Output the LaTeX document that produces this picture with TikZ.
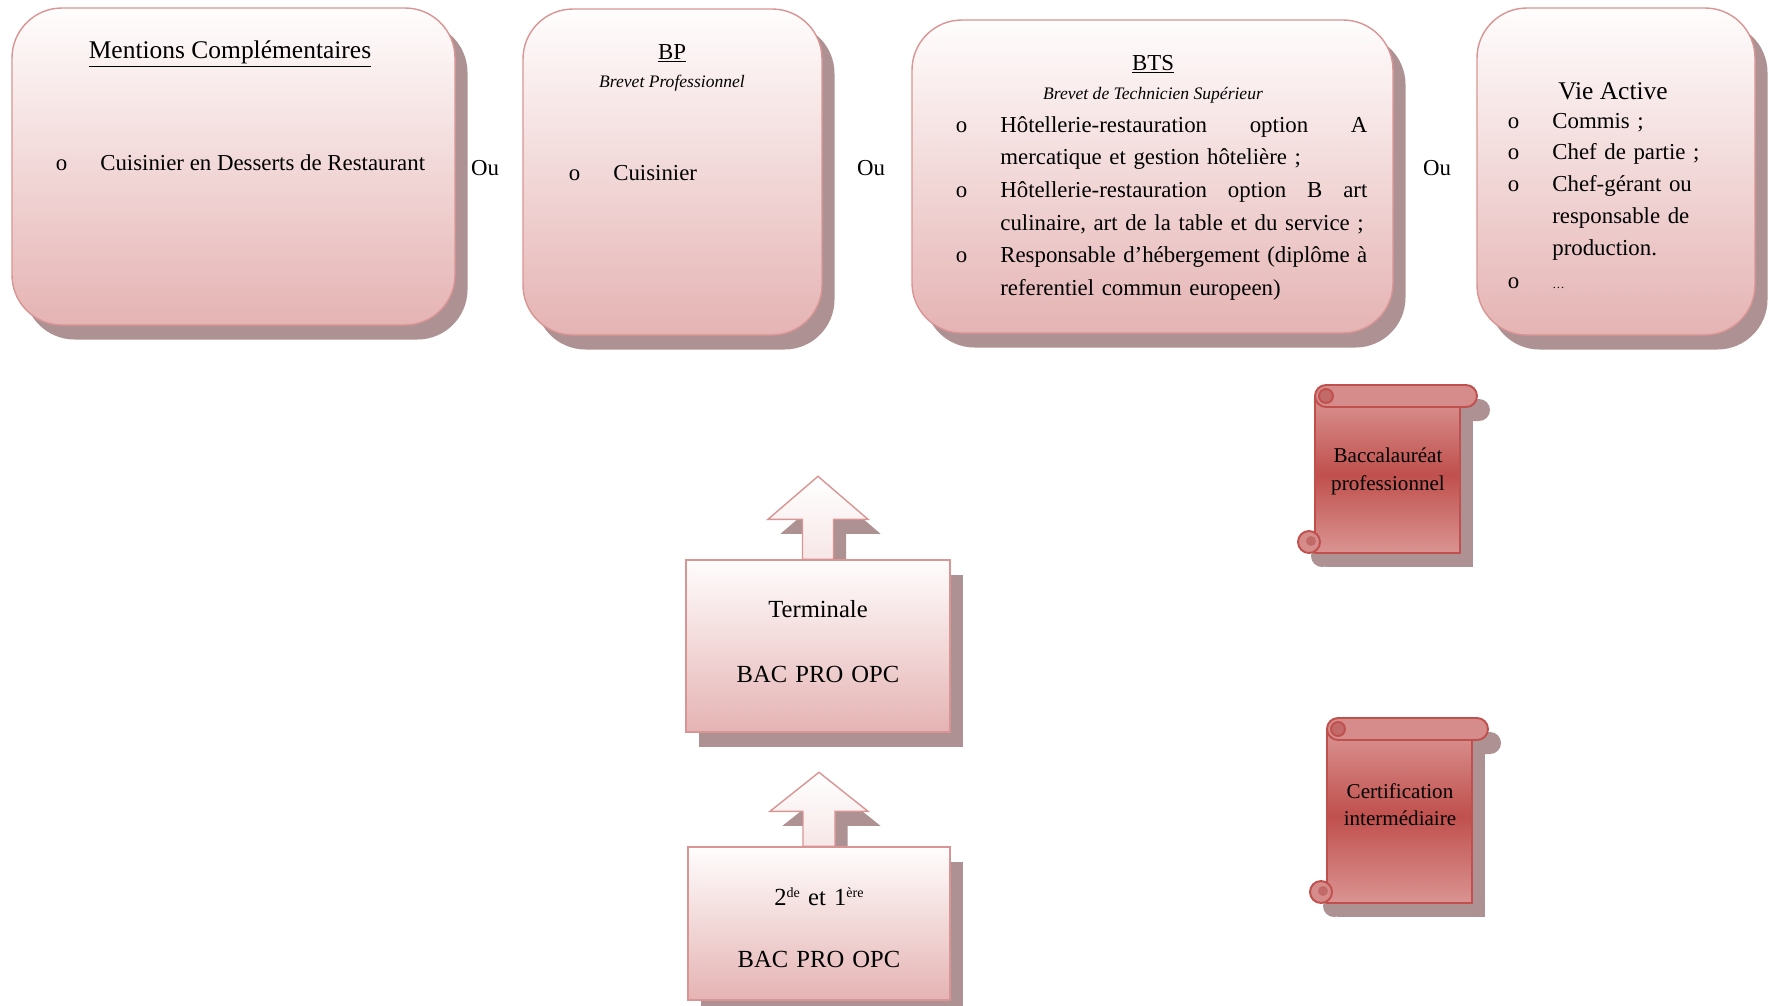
\documentclass[tikz,border=0pt]{standalone}
\usepackage{fontspec}
\setmainfont{Liberation Serif}
\usepackage{tikz}
\usetikzlibrary{shapes,arrows,fit,positioning,shadows,backgrounds}

\definecolor{bordrose}{HTML}{D99594}
\definecolor{haut}{HTML}{FFFDFD}
\definecolor{bas}{HTML}{E5B3B3}
\definecolor{ombre}{HTML}{AE9192}
\definecolor{rougeclair}{HTML}{DA9492}
\definecolor{rouge}{HTML}{C0504D}
\definecolor{rouleau}{HTML}{D68C8A}
\definecolor{boucle}{HTML}{C26A68}

\newlength\pxu
\setlength\pxu{0.02cm}
\newcommand\puce{\leavevmode\llap{o\hspace{33\pxu}}}

\tikzset{
  ombrage/.style={drop shadow={shadow xshift=0.25cm, shadow yshift=-0.29cm, fill=ombre, opacity=1}},
  cadre/.style={draw=bordrose, line width=0.8pt, top color=haut, bottom color=bas, inner sep=0pt, ombrage},
  arrondi/.style={cadre, rounded corners=1cm},
  fleche/.style={draw=bordrose, line width=0.8pt, top color=white, bottom color=haut!70!bas, ombrage},
  texte/.style={font=\fontsize{13}{18.6}\selectfont, inner sep=0pt},
  titre/.style={font=\fontsize{14.5}{17}\selectfont, inner sep=0pt},
  soustitre/.style={font=\fontsize{10}{12}\selectfont\itshape, inner sep=0pt},
  niveau/.style={font=\fontsize{14}{37}\selectfont, inner sep=0pt, text width=240\pxu, align=center},
  parchtexte/.style={font=\fontsize{12}{16}\selectfont, inner sep=0pt, text width=150\pxu, align=center},
  bordparch/.style={draw=rouge, line width=1.1pt}
}

\newcommand\parchemin[4]{%
  \begin{scope}[shift={#1}]
    \fill[ombre, rounded corners=0.22cm] (13,14) rectangle (#2+13,36);
    \fill[ombre] (10,25) rectangle (#3+13,#4+14);
    \fill[ombre] (7,#4+3) circle[radius=11];
    \draw[bordparch, top color=rougeclair, bottom color=rougeclair, middle color=rouge]
      (0,11) -- (0,#4) -- (#3,#4) -- (#3,11) -- cycle;
    \draw[bordparch, fill=rouleau] (-6,#4-11) circle[radius=11];
    \fill[boucle] (-4,#4-12) circle[radius=5];
    \draw[bordparch, fill=rouleau, rounded corners=0.22cm] (0,0) rectangle (#2,22);
    \draw[bordparch, fill=boucle] (11,11) circle[radius=7];
  \end{scope}}

\begin{document}
\begin{tikzpicture}[x=0.02cm, y=-0.02cm]
\useasboundingbox (0,0) rectangle (1769,1005);

\node[arrondi, fit={(12,8) (455,325)}] (mc) {};
\node[arrondi, fit={(523,9) (822,335)}] (bp) {};
\node[arrondi, fit={(912,20) (1393,333)}] (bts) {};
\node[arrondi, fit={(1477,8) (1755,335)}] (va) {};

\node[titre, anchor=base] (mctitre) at (230,58) {\underline{Mentions Complémentaires}};
\node[texte, anchor=base west] (mcliste) at (100,170) {\puce Cuisinier en Desserts de Restaurant};

\node[texte, anchor=base] (bptitre) at (672,59) {\underline{BP}};
\node[soustitre, anchor=base] (bpsous) at (672,87) {Brevet Professionnel};
\node[texte, anchor=base west] (bpliste) at (613,180) {\puce Cuisinier};

\node[texte, anchor=base] (btstitre) at (1153,70) {\underline{BTS}};
\node[soustitre, anchor=base] (btssous) at (1153,99) {Brevet de Technicien Supérieur};
\node[texte, anchor=base west, text width=367\pxu] (btsliste) at (1000,132) {%
  \puce Hôtellerie-restauration\hfill option\hfill A\\
  mercatique et gestion hôtelière ;\\
  \puce Hôtellerie-restauration\hfill option\hfill B\hfill art\\
  culinaire, art de la table et du service ;\\
  \puce Responsable\hfill d'hébergement\hfill (diplôme\hfill à\\
  referentiel commun europeen)};

\node[titre, anchor=base] (vatitre) at (1613,99) {Vie Active};
\node[texte, anchor=base west, text width=200\pxu, font=\fontsize{13}{18.1}\selectfont] (valiste) at (1552,128) {%
  \puce Commis ;\\
  \puce Chef de partie ;\\
  \puce Chef-gérant ou\\
  responsable de\\
  production.\\[1pt]
  \puce {\fontsize{7}{7}\selectfont …}};

\node[texte, anchor=base] (ou1) at (485,175) {Ou};
\node[texte, anchor=base] (ou2) at (871,175) {Ou};
\node[texte, anchor=base] (ou3) at (1437,175) {Ou};

\node[cadre, fit={(686,560) (950,732)}] (term) {};
\node[niveau, anchor=base] (termtexte) at (818,617) {Terminale\\BAC PRO OPC};
\node[cadre, fit={(688,847) (950,1000)}] (prem) {};
\node[niveau, anchor=base, font=\fontsize{14}{35.3}\selectfont] (premtexte) at (819,905) {2{\fontsize{8}{8}\selectfont\raisebox{0.55em}{de}} et 1{\fontsize{8}{8}\selectfont\raisebox{0.55em}{ère}}\\BAC PRO OPC};

\begin{scope}[on background layer]
\draw[fleche] ([xshift=-0.31cm]term.north) -- ++(0,-40) -- ++(-34.5,0) -- ++(50,-43) -- ++(50,43) -- ++(-34.5,0) -- ++(0,40) -- cycle;
\draw[fleche] ([xshift=-0.32cm]prem.north) -- ++(0,-35) -- ++(-33,0) -- ++(49,-39) -- ++(49,39) -- ++(-33,0) -- ++(0,35) -- cycle;
\end{scope}

\parchemin{(1315,385)}{162}{145}{168}
\node[parchtexte, anchor=base] (bacpro) at (1388,462) {Baccalauréat\\professionnel};
\parchemin{(1327,718)}{161}{145}{185}
\node[parchtexte, anchor=base, font=\fontsize{12}{15.4}\selectfont] (certif) at (1400,798) {Certification\\intermédiaire};

\end{tikzpicture}
\end{document}
